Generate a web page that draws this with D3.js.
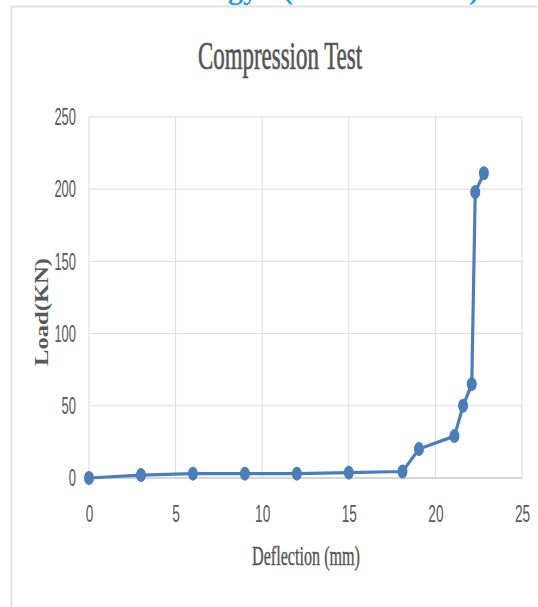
<!DOCTYPE html>
<html>
<head>
<meta charset="utf-8">
<script src="https://cdn.jsdelivr.net/npm/d3@7"></script>
<style>
  body { margin: 0; background: #fff; }
</style>
</head>
<body>
<script>
// values
const deflection = [0, 3, 6, 9, 12, 15, 18.1, 19.05, 21.1, 21.6, 22.1, 22.3, 22.8]
const load = [0, 2, 3, 3, 3, 3.7, 4.5, 20, 29, 50, 65, 198, 211]
const xTicks = [0, 5, 10, 15, 20, 25]
const yTicks = [0, 50, 100, 150, 200, 250]

const width = 538
const height = 607
const tickFont = "'Liberation Sans Narrow', 'Liberation Sans', sans-serif"

const svg = d3.select("body").append("svg")
    .attr("width", width)
    .attr("height", height)
    .style("font-family", "'Liberation Serif', 'DejaVu Serif', serif")

svg.append("rect").attr("width", width).attr("height", height).attr("fill", "#fff")

// heading of the page that is cut off above the chart
const head = svg.append("g").attr("fill", "#1d9be6").attr("font-weight", "bold").attr("font-size", 30)
head.append("text").attr("x", 228).attr("y", -1).text("gy")
head.append("text").attr("x", 283).attr("y", -1).text("(")
head.append("text").attr("x", 469).attr("y", -1).text(")")

// chart frame
svg.append("path")
    .attr("d", "M11.5,607 L11.5,6.5 L538,6.5")
    .attr("fill", "none")
    .attr("stroke", "#e2e2e2")
    .attr("stroke-width", 2)

let x = d3.scaleLinear().domain([0, 25]).range([89, 522])
let y = d3.scaleLinear().domain([0, 250]).range([478, 117])

// grid
svg.append("g").selectAll("line")
    .data(xTicks)
    .join("line")
    .attr("x1", d => x(d)).attr("x2", d => x(d))
    .attr("y1", y(250)).attr("y2", y(0))
    .attr("stroke", "#dcdcdc")

svg.append("g").selectAll("line")
    .data(yTicks.slice(1))
    .join("line")
    .attr("x1", x(0)).attr("x2", x(25))
    .attr("y1", d => y(d)).attr("y2", d => y(d))
    .attr("stroke", "#dcdcdc")

svg.append("line")
    .attr("x1", x(0)).attr("x2", x(25))
    .attr("y1", y(0)).attr("y2", y(0))
    .attr("stroke", "#c8c8c8")
    .attr("stroke-width", 1.5)

// axes
const xAxis = svg.append("g")
    .attr("transform", `translate(0,${y(0)})`)
    .call(d3.axisBottom(x).tickValues(xTicks).tickSize(0).tickPadding(27))
xAxis.select(".domain").remove()
xAxis.selectAll("text")
    .attr("font-family", tickFont)
    .attr("font-size", 24)
    .attr("fill", "#595959")
    .attr("textLength", d => String(d).length * 7.6)
    .attr("lengthAdjust", "spacingAndGlyphs")

const yAxis = svg.append("g")
    .attr("transform", `translate(${x(0)},0)`)
    .call(d3.axisLeft(y).tickValues(yTicks).tickSize(0).tickPadding(13))
yAxis.select(".domain").remove()
yAxis.selectAll("text")
    .attr("font-family", tickFont)
    .attr("font-size", 24)
    .attr("fill", "#595959")
    .attr("textLength", d => String(d).length * 7.2)
    .attr("lengthAdjust", "spacingAndGlyphs")

// titles
svg.append("text")
    .attr("x", 280).attr("y", 69)
    .attr("text-anchor", "middle")
    .attr("font-size", 39)
    .attr("fill", "#555")
    .attr("stroke", "#555")
    .attr("stroke-width", 0.7)
    .attr("textLength", 164)
    .attr("lengthAdjust", "spacingAndGlyphs")
    .text("Compression Test")

svg.append("text")
    .attr("x", 306).attr("y", 565)
    .attr("text-anchor", "middle")
    .attr("font-size", 27)
    .attr("fill", "#555")
    .attr("stroke", "#555")
    .attr("stroke-width", 0.4)
    .attr("textLength", 108)
    .attr("lengthAdjust", "spacingAndGlyphs")
    .text("Deflection (mm)")

svg.append("text")
    .attr("transform", "translate(48,312) rotate(-90)")
    .attr("text-anchor", "middle")
    .attr("font-size", 19)
    .attr("font-weight", "bold")
    .attr("fill", "#595959")
    .attr("textLength", 108)
    .attr("lengthAdjust", "spacingAndGlyphs")
    .text("Load(KN)")

// series
const points = deflection.map((d, i) => ({ x: d, y: load[i] }))
const line = d3.line().x(d => x(d.x)).y(d => y(d.y))

svg.append("path")
    .datum(points)
    .attr("d", line)
    .attr("fill", "none")
    .attr("stroke", "#4a7ebb")
    .attr("stroke-width", 3.2)
    .attr("stroke-linejoin", "round")

svg.append("g").selectAll("ellipse")
    .data(points)
    .join("ellipse")
    .attr("cx", d => x(d.x))
    .attr("cy", d => y(d.y))
    .attr("rx", 5)
    .attr("ry", 7)
    .attr("fill", "#4a7ebb")
</script>
</body>
</html>
